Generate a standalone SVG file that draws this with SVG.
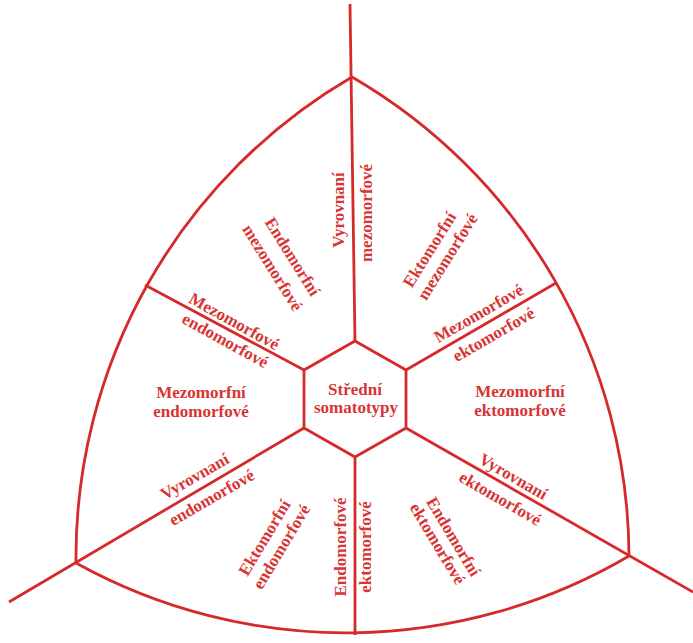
<svg xmlns="http://www.w3.org/2000/svg" width="693" height="643" viewBox="0 0 693 643">
<style>
.ln{fill:none;stroke:#d62a2a;stroke-width:2.8;stroke-linejoin:round}
text{font-family:"Liberation Serif","Times New Roman",serif;font-weight:bold;font-size:17px;fill:#d83434;text-anchor:middle}
</style>
<rect width="693" height="643" fill="#fff"/>
<g id="outline">
<path class="ln" d="M352,77 A556,556 0 0 0 76,563 A558,558 0 0 0 629,556 A556,556 0 0 0 352,77 Z"/>
</g>
<g id="connectors">
<line class="ln" x1="350" y1="4" x2="355" y2="341"/>
<line class="ln" x1="304" y1="370" x2="145" y2="285"/>
<line class="ln" x1="406" y1="370" x2="556" y2="283"/>
<line class="ln" x1="304" y1="428" x2="9" y2="602"/>
<line class="ln" x1="406" y1="428" x2="693" y2="592"/>
<line class="ln" x1="355" y1="457" x2="355" y2="635"/>
</g>
<g id="stredni">
<polygon class="ln" points="355,341 406,370 406,428 355,457 304,428 304,370"/>
<text x="355" y="395">Střední</text>
<text x="356" y="413">somatotypy</text>
</g>
<g id="vyrovnani-mezomorfove">
<text transform="translate(339,210) rotate(-90)" y="5">Vyrovnaní</text>
<text transform="translate(367,213) rotate(-90)" y="5">mezomorfové</text>
</g>
<g id="endomorfni-mezomorfove">
<text transform="translate(292,257) rotate(58)" y="5">Endomorfní</text>
<text transform="translate(272,268) rotate(58)" y="5">mezomorfové</text>
</g>
<g id="ektomorfni-mezomorfove">
<text transform="translate(430,250) rotate(-58)" y="5">Ektomorfní</text>
<text transform="translate(448,257) rotate(-58)" y="5">mezomorfové</text>
</g>
<g id="mezomorfove-endomorfove">
<text transform="translate(234,322) rotate(29)" y="5">Mezomorfové</text>
<text transform="translate(225,341) rotate(29)" y="5">endomorfové</text>
</g>
<g id="mezomorfove-ektomorfove">
<text transform="translate(479,314) rotate(-30)" y="5">Mezomorfové</text>
<text transform="translate(494,335) rotate(-30)" y="5">ektomorfové</text>
</g>
<g id="mezomorfni-endomorfove">
<text x="201" y="398">Mezomorfní</text>
<text x="201" y="417">endomorfové</text>
</g>
<g id="mezomorfni-ektomorfove">
<text x="520" y="397">Mezomorfní</text>
<text x="520" y="416">ektomorfové</text>
</g>
<g id="vyrovnani-endomorfove">
<text transform="translate(195,477) rotate(-30)" y="5">Vyrovnaní</text>
<text transform="translate(212,498) rotate(-30)" y="5">endomorfové</text>
</g>
<g id="vyrovnani-ektomorfove">
<text transform="translate(513,477) rotate(30)" y="5">Vyrovnaní</text>
<text transform="translate(500,499) rotate(30)" y="5">ektomorfové</text>
</g>
<g id="ektomorfni-endomorfove">
<text transform="translate(265,538) rotate(-59)" y="5">Ektomorfní</text>
<text transform="translate(282,547) rotate(-59)" y="5">endomorfové</text>
</g>
<g id="endomorfove-ektomorfove">
<text transform="translate(341,547) rotate(-90)" y="5">Endomorfové</text>
<text transform="translate(366,547) rotate(-90)" y="5">ektomorfové</text>
</g>
<g id="endomorfni-ektomorfove">
<text transform="translate(453,537) rotate(59)" y="5">Endomorfní</text>
<text transform="translate(437,544) rotate(59)" y="5">ektomorfové</text>
</g>
</svg>
